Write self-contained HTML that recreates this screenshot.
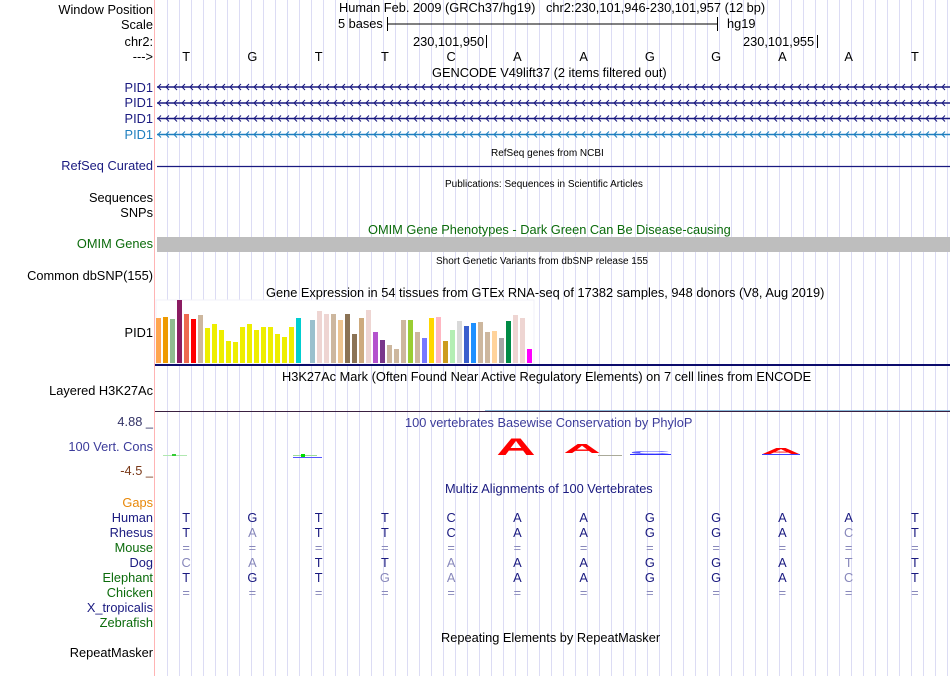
<!DOCTYPE html>
<html><head><meta charset="utf-8">
<style>
body{margin:0;background:#fff;}
#root{position:relative;width:950px;height:676px;overflow:hidden;font-family:"Liberation Sans",sans-serif;background:#fff;}
.t{position:absolute;white-space:nowrap;font-size:12.8px;line-height:14px;}
.l{position:absolute;right:797px;white-space:nowrap;font-size:12.8px;line-height:14px;text-align:right;}
.s{font-size:10px;}
svg{position:absolute;left:0;top:0;}
</style></head>
<body>
<div id="root">
<svg id="g" width="950" height="676"></svg>

<div class="l" style="top:3px">Window Position</div>
<div class="l" style="top:18px">Scale</div>
<div class="l" style="top:35px">chr2:</div>
<div class="l" style="top:50px">---&gt;</div>
<div class="l" style="top:81px;color:#1a1a80">PID1</div>
<div class="l" style="top:96px;color:#1a1a80">PID1</div>
<div class="l" style="top:112px;color:#1a1a80">PID1</div>
<div class="l" style="top:128px;color:#1f7fbf">PID1</div>
<div class="l" style="top:159px;color:#1a1a80">RefSeq Curated</div>
<div class="l" style="top:191px">Sequences</div>
<div class="l" style="top:206px">SNPs</div>
<div class="l" style="top:237px;color:#0b6b0b">OMIM Genes</div>
<div class="l" style="top:269px">Common dbSNP(155)</div>
<div class="l" style="top:326px">PID1</div>
<div class="l" style="top:384px">Layered H3K27Ac</div>
<div class="l" style="top:415px;color:#333366">4.88 _</div>
<div class="l" style="top:440px;color:#3b3b9a">100 Vert. Cons</div>
<div class="l" style="top:464px;color:#7a3a1a">-4.5 _</div>
<div class="l" style="top:496px;color:#e8880a">Gaps</div>
<div class="l" style="top:511px;color:#1a1a80">Human</div>
<div class="l" style="top:526px;color:#1a1a80">Rhesus</div>
<div class="l" style="top:541px;color:#0b6b0b">Mouse</div>
<div class="l" style="top:556px;color:#1a1a80">Dog</div>
<div class="l" style="top:571px;color:#0b6b0b">Elephant</div>
<div class="l" style="top:586px;color:#0b6b0b">Chicken</div>
<div class="l" style="top:601px;color:#1a1a80">X_tropicalis</div>
<div class="l" style="top:616px;color:#0b6b0b">Zebrafish</div>
<div class="l" style="top:646px">RepeatMasker</div>

<div class="t" style="left:339px;top:1px">Human Feb. 2009 (GRCh37/hg19) &nbsp; chr2:230,101,946-230,101,957 (12 bp)</div>
<div class="t" style="left:338px;top:17px">5 bases</div>
<div class="t" style="left:727px;top:17px">hg19</div>
<div class="t" style="left:413px;top:35px">230,101,950</div>
<div class="t" style="left:743px;top:35px">230,101,955</div>
<div class="t" style="left:432px;top:66px">GENCODE V49lift37 (2 items filtered out)</div>
<div class="t s" style="left:491px;top:147px">RefSeq genes from NCBI</div>
<div class="t s" style="left:445px;top:178px">Publications: Sequences in Scientific Articles</div>
<div class="t" style="left:368px;top:223px;color:#0b6b0b">OMIM Gene Phenotypes - Dark Green Can Be Disease-causing</div>
<div class="t s" style="left:436px;top:255px">Short Genetic Variants from dbSNP release 155</div>
<div class="t" style="left:266px;top:286px">Gene Expression in 54 tissues from GTEx RNA-seq of 17382 samples, 948 donors (V8, Aug 2019)</div>
<div class="t" style="left:282px;top:370px">H3K27Ac Mark (Often Found Near Active Regulatory Elements) on 7 cell lines from ENCODE</div>
<div class="t" style="left:405px;top:416px;color:#3b3b9a">100 vertebrates Basewise Conservation by PhyloP</div>
<div class="t" style="left:445px;top:482px;color:#1a1a80">Multiz Alignments of 100 Vertebrates</div>
<div class="t" style="left:441px;top:631px">Repeating Elements by RepeatMasker</div>
<div id="txt"></div>
</div>
<script>
const bases = ["T","G","T","T","C","A","A","G","G","A","A","T"];
const rhesus = ["T","A","T","T","C","A","A","G","G","A","C","T"];
const rhesusMatch = [1,0,1,1,1,1,1,1,1,1,0,1];
const dog = ["C","A","T","T","A","A","A","G","G","A","T","T"];
const dogMatch = [0,0,1,1,0,1,1,1,1,1,0,1];
const elephant = ["T","G","T","G","A","A","A","G","G","A","C","T"];
const elephantMatch = [1,1,1,0,0,1,1,1,1,1,0,1];
const gtexValues = [45,46,44,63,49,44,48,35,39,33,22,21,36,39,33,36,36,29,26,36,45,0,43,52,49,49,43,49,29,45,53,31,23,18,14,43,43,31,25,45,46,22,33,42,37,40,41,31,32,25,42,48,45,14];
const gtexColors = ["#FFA54F","#EE9A00","#8FBC8F","#8B1C62","#EE6A50","#FF0000","#CDB79E","#EEEE00","#EEEE00","#EEEE00","#EEEE00","#EEEE00","#EEEE00","#EEEE00","#EEEE00","#EEEE00","#EEEE00","#EEEE00","#EEEE00","#EEEE00","#00CED1","#9AC0CD","#9AC0CD","#EED5D2","#EED5D2","#CDB79E","#EEC591","#8B7355","#8B7355","#CDAA7D","#EED5D2","#B452CD","#7A378B","#CDB79E","#CDB79E","#CDB79E","#9ACD32","#CDB79E","#7777FF","#FFD700","#FFB6C1","#CD9B1D","#B4EEB4","#D9D9D9","#3A5FCD","#1E90FF","#CDB79E","#CDB79E","#FFD39B","#A6A6A6","#008B45","#EED5D2","#EED5D2","#FF00FF"];

const NS="http://www.w3.org/2000/svg";
const g=document.getElementById('g');
function el(tag,attrs,parent){const e=document.createElementNS(NS,tag);for(const k in attrs)e.setAttribute(k,attrs[k]);(parent||g).appendChild(e);return e;}
const X0=155, W=795, bw=W/bases.length;
const bx=i=>X0+bw*(i+0.5)-2;
for(let x=167.5;x<950;x+=12){const ln=el('line',{x1:x,y1:0,x2:x,y2:676,stroke:'#dcdcf4','stroke-width':1});

}
const rl=el('line',{x1:154.5,y1:0,x2:154.5,y2:676,stroke:'#ffb4b4','stroke-width':1});


el('line',{x1:387,y1:24,x2:717,y2:24,stroke:'#000'});
el('line',{x1:387.5,y1:17,x2:387.5,y2:31,stroke:'#000'});
el('line',{x1:717.5,y1:17,x2:717.5,y2:31,stroke:'#000'});
el('line',{x1:486.5,y1:35,x2:486.5,y2:48,stroke:'#000'});
el('line',{x1:817.5,y1:35,x2:817.5,y2:48,stroke:'#000'});
[[87,'#1a1a80'],[103,'#1a1a80'],[118.5,'#1a1a80'],[134.5,'#1f7fbf']].forEach(([y,c],r)=>{
 const grp=el('g',{});
 
 
 el('line',{x1:157,y1:y,x2:950,y2:y,stroke:c,'stroke-width':1.5},grp);
 let d='';for(let x=158;x<950;x+=8)d+=`M${x+3},${y-3}L${x},${y}L${x+3},${y+3}`;
 el('path',{d:d,stroke:c,fill:'none','stroke-width':1},grp);
});
el('line',{x1:157,y1:166.5,x2:950,y2:166.5,stroke:'#1a1a80','stroke-width':1.2});
const om=el('rect',{x:157,y:237,width:793,height:15,fill:'#bebebe'});


el('rect',{x:156,y:300,width:378,height:64,fill:'#fff',stroke:'#f0f0f8'});
const base=363, scale=1.0;
gtexValues.forEach((v,i)=>{
 const r=el('rect',{x:156+7*i,y:base-v*scale,width:5,height:v*scale,fill:gtexColors[i]});
 
 
});
el('rect',{x:155,y:364,width:795,height:2,fill:'#0c0c6c'});
el('line',{x1:155,y1:411.5,x2:950,y2:411.5,stroke:'#3a2040','stroke-width':1});
el('line',{x1:485,y1:410.5,x2:950,y2:410.5,stroke:'#8ab8d8','stroke-width':1});
function logo(ch,cx,w,h,yb,col){const t=el('text',{x:0,y:0,'font-size':10,'font-family':'Liberation Sans','font-weight':'bold','text-anchor':'middle',fill:col,transform:`translate(${cx},${yb}) scale(${w/7},${h/7.2})`});t.textContent=ch;

}
logo('A',516,38,17,455,'#f00');logo('A',582,36,9,453,'#f00');logo('A',781,38,6,454,'#f00');
el('line',{x1:762,y1:454.5,x2:800,y2:454.5,stroke:'#4040ff'});
logo('C',650,40,3.5,454,'#5a5aff');
el('line',{x1:630,y1:454.5,x2:671,y2:454.5,stroke:'#3030ff'});
el('line',{x1:163,y1:455.5,x2:187,y2:455.5,stroke:'#b0e8b0'});
el('rect',{x:172,y:454,width:4,height:2,fill:'#3c3'});
el('line',{x1:293,y1:455.5,x2:317,y2:455.5,stroke:'#9d9'});
el('rect',{x:301,y:454,width:4,height:3,fill:'#0d0'});
el('line',{x1:293,y1:457.5,x2:322,y2:457.5,stroke:'#55f'});
el('line',{x1:598,y1:455.5,x2:622,y2:455.5,stroke:'#aa9'});
const txt=document.getElementById('txt');
function addT(x,y,s,col,name){const d=document.createElement('div');d.className='t';d.textContent=s;d.style.left=(x-5)+'px';d.style.top=y+'px';d.style.width='10px';d.style.textAlign='center';d.style.color=col;


txt.appendChild(d);}
const dark='#1a1a80', light='#8888bb';
bases.forEach((b,i)=>{
 addT(bx(i),50,b,'#000','ruler-base');
 addT(bx(i),511,b,dark,'human-base');
 addT(bx(i),526,rhesus[i],rhesusMatch[i]?dark:light,'rhesus-base');
 addT(bx(i),541,'=',light,'mouse-base');
 addT(bx(i),556,dog[i],dogMatch[i]?dark:light,'dog-base');
 addT(bx(i),571,elephant[i],elephantMatch[i]?dark:light,'elephant-base');
 addT(bx(i),586,'=',light,'chicken-base');
});
</script>
</body></html>
